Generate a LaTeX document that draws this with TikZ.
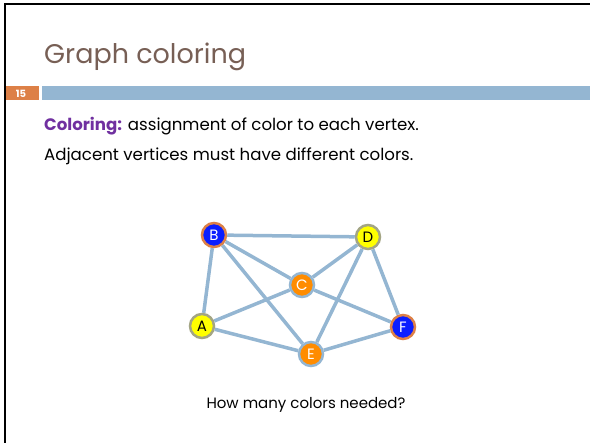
\documentclass[tikz,border=0pt]{standalone}
\usepackage{fontspec}
\setmainfont{Poppins}
\usetikzlibrary{positioning}

\definecolor{barblue}{HTML}{94B6D2}
\definecolor{barorange}{HTML}{DD8047}
\definecolor{titlegray}{HTML}{775F55}
\definecolor{keypurple}{HTML}{7030A0}
\definecolor{fillblue}{HTML}{0A1EFF}
\definecolor{fillorange}{HTML}{FF8C00}
\definecolor{fillyellow}{HTML}{FFFF00}
\definecolor{rimolive}{HTML}{A3A584}

\begin{document}
\begin{tikzpicture}[
  x=1pt, y=-1pt,
  vertex/.style={circle, minimum size=24pt, inner sep=0pt, line width=2.5pt, font=\fontsize{15}{15}\selectfont},
  bluev/.style={vertex, fill=fillblue, draw=barorange, text=white},
  orangev/.style={vertex, fill=fillorange, draw=barblue, text=white},
  yellowv/.style={vertex, fill=fillyellow, draw=rimolive, text=black},
  edge/.style={draw=barblue, line width=3.5pt}
]
  \useasboundingbox (0,0) rectangle (590,443);
  % slide frame and header bar
  \draw[line width=2pt] (4.5,443) -- (4.5,4.5) -- (590,4.5);
  \fill[barorange] (6,86) rectangle (39,100);
  \fill[barblue] (42,86) rectangle (590,100);
  \node[anchor=center, text=white, font=\bfseries\fontsize{10}{10}\selectfont] (num) at (21,93.5) {15};

  \node[anchor=base west, inner sep=0pt, text=titlegray, font=\fontsize{27}{27}\selectfont] (title) at (44,64) {Graph coloring};
  \node[anchor=base west, inner sep=0pt, font=\fontsize{16.6}{16.6}\selectfont] (line1) at (44,131)
    {\textcolor{keypurple}{\bfseries Coloring:} assignment of color to each vertex.};
  \node[anchor=base west, inner sep=0pt, font=\fontsize{16.6}{16.6}\selectfont] (line2) at (44,161)
    {Adjacent vertices must have different colors.};

  % the graph
  \node[bluev]   (B) at (214,235) {B};
  \node[yellowv] (D) at (368,237) {D};
  \node[orangev] (C) at (302,285) {C};
  \node[yellowv] (A) at (202,326) {A};
  \node[bluev]   (F) at (403,327) {F};
  \node[orangev] (E) at (311,354) {E};

  \draw[edge] (B) -- (D);
  \draw[edge] (B) -- (A);
  \draw[edge] (B) -- (C);
  \draw[edge] (B) -- (E);
  \draw[edge] (D) -- (C);
  \draw[edge] (D) -- (E);
  \draw[edge] (D) -- (F);
  \draw[edge] (C) -- (A);
  \draw[edge] (C) -- (F);
  \draw[edge] (A) -- (E);
  \draw[edge] (E) -- (F);

  \node[anchor=center, font=\fontsize{15}{15}\selectfont] (question) at (306,405) {How many colors needed?};
\end{tikzpicture}
\end{document}
